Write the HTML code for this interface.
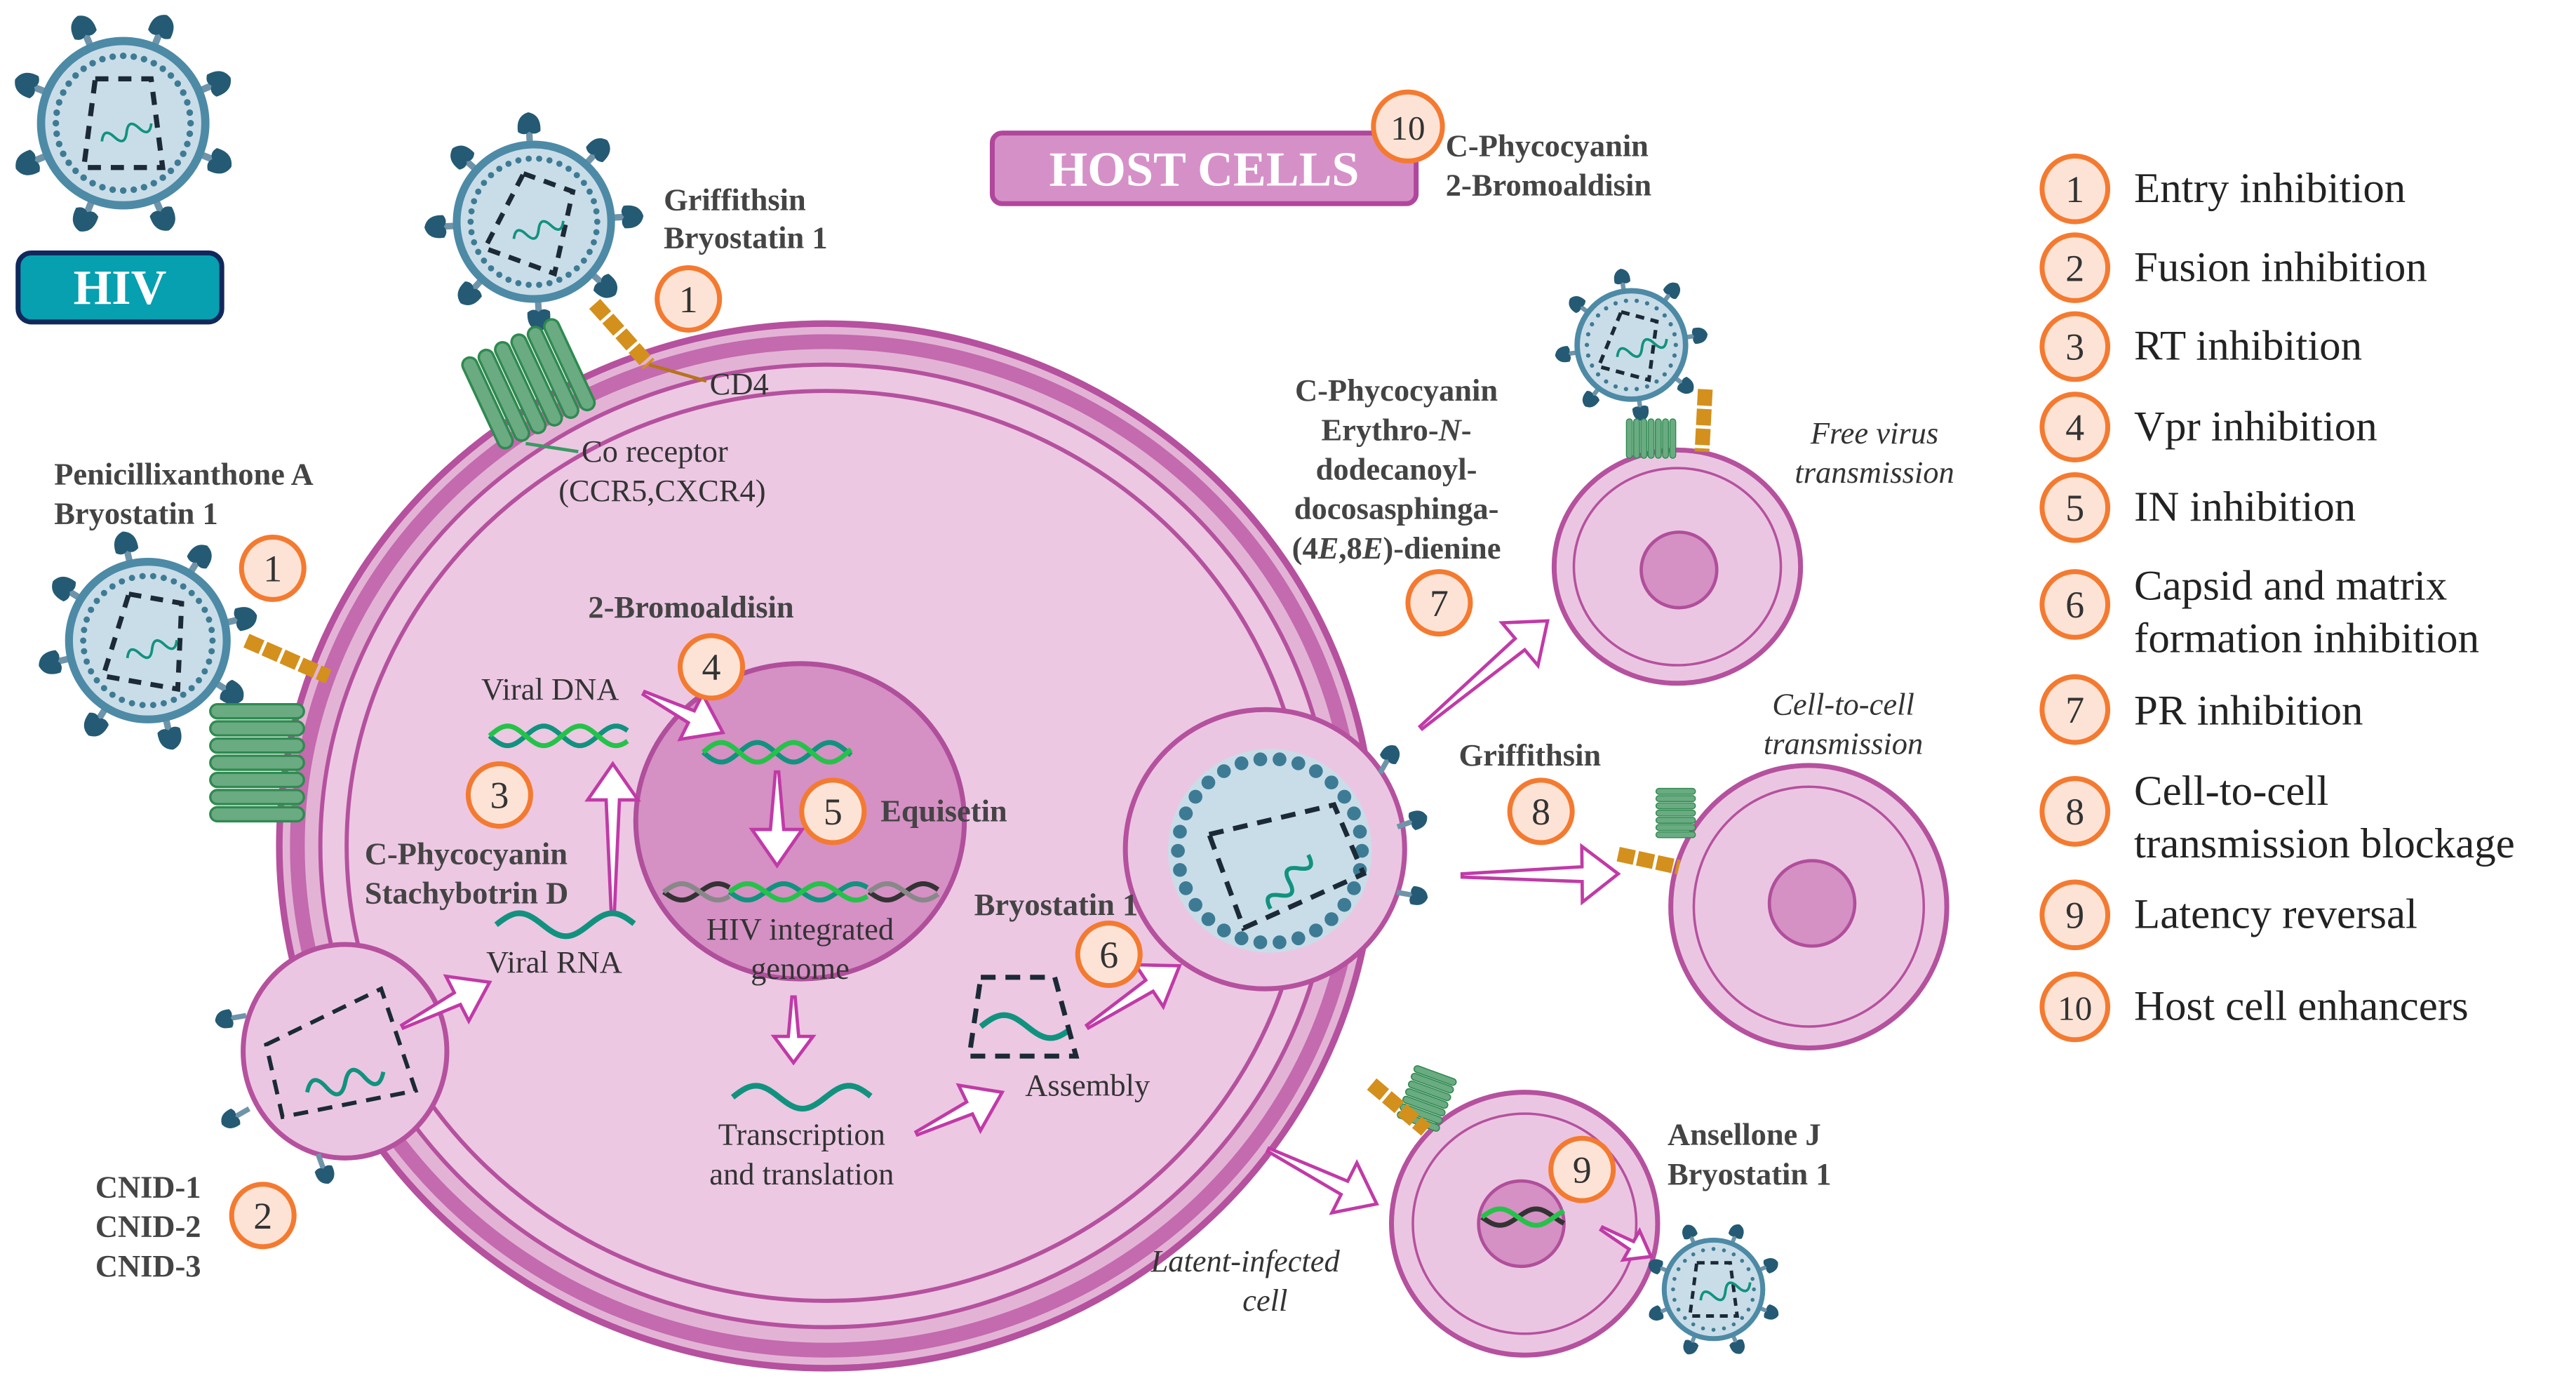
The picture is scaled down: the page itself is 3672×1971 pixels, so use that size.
<!DOCTYPE html>
<html><head><meta charset="utf-8">
<style>
html,body{margin:0;padding:0;background:#fff;}
svg{display:block;font-family:"Liberation Serif","DejaVu Serif",serif;}
svg text{font-family:"Liberation Serif","DejaVu Serif",serif;fill:#333;}
.b{font-weight:bold;fill:#444;}
.lg{font-size:26px;fill:#222;}
.it{font-style:italic;}
</style></head><body>
<svg id="s" width="3672" height="1971" viewBox="0 0 1568 842" preserveAspectRatio="none" xmlns="http://www.w3.org/2000/svg" font-family="Liberation Serif, serif">
<defs>
<g id="spike"><line x1="0" y1="0" x2="0" y2="-14" stroke="#6f94aa" stroke-width="4"/><path d="M-7,-12 Q-8,-22 0,-24 Q8,-22 7,-12 Q3,-9 0,-12 Q-3,-9 -7,-12Z" fill="#245a74"/></g>
</defs>
<rect width="1568" height="842" fill="#fff"/>
<!-- big cell -->
<ellipse cx="503" cy="515" rx="333" ry="318" fill="#e3b3d6" stroke="#b5519e" stroke-width="4"/>
<ellipse cx="503" cy="515" rx="322" ry="307" fill="none" stroke="#c46aae" stroke-width="9"/>
<ellipse cx="503" cy="515" rx="308" ry="293" fill="#ecc8e3" stroke="#b5519e" stroke-width="2.5"/>
<ellipse cx="503" cy="515" rx="292" ry="277" fill="none" stroke="#b5519e" stroke-width="2.5"/>
<!-- left bud -->
<ellipse cx="210" cy="640" rx="62" ry="65" fill="#ebc6e2" stroke="#b5519e" stroke-width="3"/>
<!-- right bud -->
<circle cx="770" cy="517" r="85" fill="#ebc6e2" stroke="#b5519e" stroke-width="3"/>
<circle cx="773" cy="518" r="62" fill="#c9dde8"/>
<g id="dots"></g>
<polygon points="736,508 812,490 830,532 757,565" fill="none" stroke="#1b2a36" stroke-width="3" stroke-dasharray="9,6"/>
<path d="M755,542 q5,-10 10,0 t10,0 t10,0 t10,0" transform="rotate(-55 775 530)" fill="none" stroke="#11927f" stroke-width="2.5"/>
<!-- nucleus -->
<ellipse cx="487" cy="500" rx="100" ry="96" fill="#d590c4" stroke="#b04f9b" stroke-width="3"/>
<!-- left bud capsid -->
<polygon points="162,636 232,602 253,664 172,680" fill="none" stroke="#1b2a36" stroke-width="2.5" stroke-dasharray="9,6"/>
<path d="M185,660 q6,-12 12,0 t12,0 t12,0 t12,0" fill="none" stroke="#11927f" stroke-width="2.5" transform="rotate(-15 205 655)"/>
<!-- other cells -->
<ellipse cx="1021" cy="345" rx="75" ry="71" fill="#ebc6e2" stroke="#b5519e" stroke-width="3"/>
<ellipse cx="1021" cy="345" rx="63" ry="60" fill="none" stroke="#b5519e" stroke-width="1.5"/>
<circle cx="1022" cy="347" r="23" fill="#d590c4" stroke="#b04f9b" stroke-width="2"/>
<ellipse cx="1101" cy="552" rx="84" ry="86" fill="#ebc6e2" stroke="#b5519e" stroke-width="3"/>
<ellipse cx="1101" cy="552" rx="70" ry="73" fill="none" stroke="#b5519e" stroke-width="1.5"/>
<circle cx="1103" cy="550" r="26" fill="#d590c4" stroke="#b04f9b" stroke-width="2"/>
<ellipse cx="928" cy="745" rx="81" ry="80" fill="#ebc6e2" stroke="#b5519e" stroke-width="3"/>
<ellipse cx="928" cy="745" rx="68" ry="67" fill="none" stroke="#b5519e" stroke-width="1.5"/>
<circle cx="926" cy="745" r="26" fill="#d590c4" stroke="#b04f9b" stroke-width="2"/>
<g id="dyn"></g>
<!-- boxes -->
<rect x="604" y="81" width="258" height="43" rx="6" fill="#d690c8" stroke="#b0479c" stroke-width="3"/>
<text x="733" y="113" text-anchor="middle" style="font-size:30px;font-weight:bold;fill:#fff">HOST CELLS</text>
<rect x="11" y="154" width="124" height="42" rx="8" fill="#06a0b0" stroke="#10285c" stroke-width="3"/>
<text x="73" y="185" text-anchor="middle" style="font-size:30px;font-weight:bold;fill:#fff">HIV</text>
<!-- labels -->
<g style="font-size:19px">
<text x="404" y="128" class="b">Griffithsin</text>
<text x="404" y="151" class="b">Bryostatin 1</text>
<text x="33" y="295" class="b">Penicillixanthone A</text>
<text x="33" y="319" class="b">Bryostatin 1</text>
<text x="358" y="376" class="b">2-Bromoaldisin</text>
<text x="222" y="526" class="b">C-Phycocyanin</text>
<text x="222" y="550" class="b">Stachybotrin D</text>
<text x="536" y="500" class="b">Equisetin</text>
<text x="593" y="557" class="b">Bryostatin 1</text>
<text x="58" y="729" class="b">CNID-1</text>
<text x="58" y="753" class="b">CNID-2</text>
<text x="58" y="777" class="b">CNID-3</text>
<text x="880" y="95" class="b">C-Phycocyanin</text>
<text x="880" y="119" class="b">2-Bromoaldisin</text>
<text x="850" y="244" text-anchor="middle" class="b">C-Phycocyanin</text>
<text x="850" y="268" text-anchor="middle" class="b">Erythro-<tspan font-style="italic">N</tspan>-</text>
<text x="850" y="292" text-anchor="middle" class="b">dodecanoyl-</text>
<text x="850" y="316" text-anchor="middle" class="b">docosasphinga-</text>
<text x="850" y="340" text-anchor="middle" class="b">(4<tspan font-style="italic">E</tspan>,8<tspan font-style="italic">E</tspan>)-dienine</text>
<text x="888" y="466" class="b">Griffithsin</text>
<text x="1015" y="697" class="b">Ansellone J</text>
<text x="1015" y="721" class="b">Bryostatin 1</text>
</g>
<g style="font-size:19px">
<text x="432" y="240">CD4</text>
<text x="354" y="281">Co receptor</text>
<text x="340" y="305">(CCR5,CXCR4)</text>
<text x="293" y="426">Viral DNA</text>
<text x="296" y="592">Viral RNA</text>
<text x="487" y="572" text-anchor="middle">HIV integrated</text>
<text x="487" y="596" text-anchor="middle">genome</text>
<text x="488" y="697" text-anchor="middle">Transcription</text>
<text x="488" y="721" text-anchor="middle">and translation</text>
<text x="624" y="667">Assembly</text>
<text x="1141" y="270" text-anchor="middle" class="it">Free virus</text>
<text x="1141" y="294" text-anchor="middle" class="it">transmission</text>
<text x="1122" y="435" text-anchor="middle" class="it">Cell-to-cell</text>
<text x="1122" y="459" text-anchor="middle" class="it">transmission</text>
<text x="758" y="774" text-anchor="middle" class="it">Latent-infected</text>
<text x="770" y="798" text-anchor="middle" class="it">cell</text>
</g>
<g>
<text x="1299" y="123" class="lg">Entry inhibition</text>
<text x="1299" y="171" class="lg">Fusion inhibition</text>
<text x="1299" y="219" class="lg">RT inhibition</text>
<text x="1299" y="268" class="lg">Vpr inhibition</text>
<text x="1299" y="317" class="lg">IN inhibition</text>
<text x="1299" y="365" class="lg">Capsid and matrix</text>
<text x="1299" y="397" class="lg">formation inhibition</text>
<text x="1299" y="441" class="lg">PR inhibition</text>
<text x="1299" y="490" class="lg">Cell-to-cell</text>
<text x="1299" y="522" class="lg">transmission blockage</text>
<text x="1299" y="565" class="lg">Latency reversal</text>
<text x="1299" y="621" class="lg">Host cell enhancers</text>
</g>
<g id="nums"></g>
</svg>
<script>
const NS="http://www.w3.org/2000/svg";
const dyn=document.getElementById('dyn');
function el(t,a,p){const e=document.createElementNS(NS,t);for(const k in a)e.setAttribute(k,a[k]);(p||dyn).appendChild(e);return e;}
const dg=document.getElementById('dots');
for(let i=0;i<30;i++){const a=i/30*2*Math.PI;el('circle',{cx:773+56*Math.cos(a),cy:518+56*Math.sin(a),r:4.2,fill:'#3d7b95'},dg);}
function virus(cx,cy,r,rot){
 const g=el('g',{});
 for(let i=0;i<8;i++){const a=i*45+22+(rot||0);el('use',{href:'#spike',transform:`translate(${cx},${cy}) rotate(${a}) translate(0,${-r*0.92}) scale(${r/48})`},g);}
 el('circle',{cx,cy,r,fill:'#c9dde8',stroke:'#4d8aa6','stroke-width':r*0.1},g);
 const n=Math.round(r*0.8);
 for(let i=0;i<n;i++){const a=i/n*2*Math.PI;el('circle',{cx:cx+r*0.82*Math.cos(a),cy:cy+r*0.82*Math.sin(a),r:r*0.04,fill:'#3d7b95'},g);}
 const s=r/50;
 el('polygon',{points:`${cx-17*s},${cy-27*s} ${cx+17*s},${cy-27*s} ${cx+24*s},${cy+27*s} ${cx-24*s},${cy+27*s}`,fill:'none',stroke:'#1b2a36','stroke-width':2.5*s+0.6,'stroke-dasharray':`${8*s},${6*s}`,transform:`rotate(${rot||0} ${cx} ${cy})`},g);
 el('path',{d:`M${cx-16*s},${cy+6*s} q4,-8 8,0 t8,0 t8,0 t8,0`,fill:'none',stroke:'#11927f','stroke-width':1.6,transform:`rotate(-20 ${cx} ${cy})`},g);
}
virus(75,75,50,0);virus(325,135,47,20);virus(90,390,48,10);virus(993,210,33,15);virus(1043,785,30,0);
[[140,620,-100],[143,680,-120],[197,712,160],[845,462,30],[860,500,70],[860,545,100]].forEach(p=>el('use',{href:'#spike',transform:`translate(${p[0]},${p[1]}) rotate(${p[2]}) translate(0,10) scale(0.8)`}));
function recept(x,y,rot,sc,n){const g=el('g',{transform:`translate(${x},${y}) rotate(${rot}) scale(${sc})`});
 for(let i=0;i<n;i++){el('rect',{x:i*11,y:0,width:9,height:60,rx:4.5,fill:'#6aab82',stroke:'#2f8a50','stroke-width':1.5},g);}}
recept(280,220,-25,1,6);recept(128,500,-90,0.95,7);recept(990,255,0,0.4,7);recept(1008,510,-90,0.4,7);recept(850,680,-70,0.45,7);
function cd4(x1,y1,x2,y2){el('line',{x1,y1,x2,y2,stroke:'#d4901c','stroke-width':9,'stroke-dasharray':'10,2'});}
cd4(362,185,395,222);el('line',{x1:395,y1:222,x2:430,y2:232,stroke:'#b6741a','stroke-width':2});
cd4(150,390,200,412);cd4(1038,237,1036,275);cd4(985,520,1022,528);cd4(835,660,868,688);
el('line',{x1:320,y1:270,x2:352,y2:275,stroke:'#3a9a62','stroke-width':2});
function arrow(x1,y1,x2,y2,w){const dx=x2-x1,dy=y2-y1,L=Math.hypot(dx,dy),ux=dx/L,uy=dy/L,nx=-uy,ny=ux;
 const hl=Math.min(22,L*0.4),hw=w*1.7,bw=w*0.45,tw=1;
 const bx=x2-ux*hl,by=y2-uy*hl;
 const p=[[x1+nx*tw,y1+ny*tw],[bx+nx*bw,by+ny*bw],[bx+nx*hw,by+ny*hw],[x2,y2],[bx-nx*hw,by-ny*hw],[bx-nx*bw,by-ny*bw],[x1-nx*tw,y1-ny*tw]];
 el('polygon',{points:p.map(q=>q.join(',')).join(' '),fill:'#fff',stroke:'#c13aa7','stroke-width':2,'stroke-linejoin':'miter'});}
arrow(245,625,298,598,9);arrow(373,555,373,465,9);arrow(392,422,440,446,9);arrow(473,470,473,527,9);
arrow(483,607,483,647,7);arrow(558,690,610,665,9);arrow(662,625,718,588,9);arrow(865,443,942,378,10);
arrow(890,533,985,532,10);arrow(772,700,838,733,10);arrow(975,748,1005,765,6);
function helix(x,y,len,cols,amp){cols.forEach((c,i)=>{let d=`M${x},${y}`;for(let t=0;t<=len;t+=2){d+=` L${x+t},${y+amp*Math.sin(t/7+i*Math.PI)}`;}el('path',{d,fill:'none',stroke:c,'stroke-width':3});});}
helix(298,448,85,['#11927f','#25c24a'],6);helix(428,458,90,['#11927f','#25c24a'],6);
helix(404,543,40,['#333','#888'],5);helix(444,543,85,['#11927f','#25c24a'],5);helix(529,543,42,['#333','#888'],5);
helix(902,741,50,['#333','#25c24a'],5);
function wave(x,y,len,amp){let d=`M${x},${y}`;for(let t=0;t<=len;t+=2)d+=` L${x+t},${y-amp*Math.sin(t/9)}`;el('path',{d,fill:'none',stroke:'#11927f','stroke-width':3.5});}
wave(302,563,85,7);wave(446,668,85,7);wave(597,625,55,7);
el('polygon',{points:'597,595 642,595 655,643 590,643',fill:'none',stroke:'#1b2a36','stroke-width':3,'stroke-dasharray':'9,6'});
const ng=document.getElementById('nums');
function num(x,y,n,r){el('circle',{cx:x,cy:y,r:r||19,fill:'#fde3d6',stroke:'#f47a30','stroke-width':3},ng);
 const t=el('text',{x:x,y:y+8,'text-anchor':'middle','font-family':'Liberation Serif, serif',style:`font-size:${n>9?21:23}px;fill:#333`},ng);t.textContent=n;}
num(419,182,1);num(166,346,1);num(433,406,4);num(304,484,3);num(507,494,5);num(675,581,6);num(160,740,2);
num(876,367,7);num(938,494,8);num(963,712,9);num(857,77,10,21);
[[115,1],[163,2],[211,3],[260,4],[309,5],[368,6],[432,7],[494,8],[557,9],[613,10]].forEach(p=>num(1263,p[0],p[1],20));
</script>
</body></html>
